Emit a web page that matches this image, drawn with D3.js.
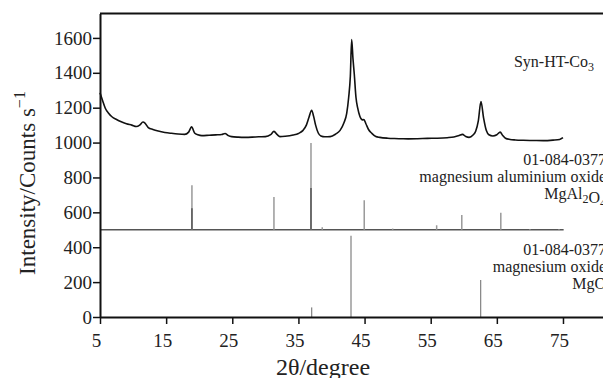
<!DOCTYPE html>
<html>
<head>
<meta charset="utf-8">
<script src="https://cdn.jsdelivr.net/npm/d3@7"></script>
<style>
  body { margin: 0; background: #fff; }
  svg { display: block; }
  svg text { font-family: "Liberation Serif", "Times New Roman", serif; }
</style>
</head>
<body>
<div id="chart"></div>
<script>
var width = 603,
    height = 378;

// measured pattern of the sample, [2theta, counts/s]
var sampleTheta = [5.0, 5.4, 5.8, 6.3, 6.8, 7.5, 8.3, 9.0, 9.8, 10.5, 11.0, 11.5, 11.8, 12.3, 13.0, 13.8, 14.8, 15.8, 16.8, 17.8,
    18.4, 18.85, 19.3, 19.8, 20.4, 21.5, 22.5, 23.4, 23.9, 24.4, 24.9, 25.9, 26.9, 28.0, 29.0, 30.0, 30.8, 31.3, 31.8, 32.2,
    33.0, 34.2, 35.0, 35.7, 36.2, 36.6, 37.0, 37.3, 37.6, 38.0, 38.4, 39.0, 39.8, 40.6, 41.3, 41.9, 42.3, 42.6, 42.85, 43.05,
    43.25, 43.45, 43.7, 43.95, 44.3, 44.7, 44.9, 45.2, 45.6, 46.1, 46.7, 47.3, 48.5, 49.5, 50.5, 51.6, 53.0, 54.5, 56.0, 57.5,
    58.5, 59.3, 59.8, 60.3, 60.8, 61.4, 61.8, 62.2, 62.6, 63.0, 63.4, 63.8, 64.4, 65.0, 65.5, 65.9, 66.3, 67.0, 67.8, 69.0,
    70.5, 72.0, 73.5, 74.5, 75.0];
var sampleCounts = [1285, 1240, 1197, 1168, 1148, 1132, 1118, 1108, 1100, 1092, 1100, 1118, 1112, 1086, 1075, 1066, 1058, 1053, 1049, 1047,
    1060, 1090, 1055, 1045, 1040, 1042, 1044, 1046, 1052, 1040, 1034, 1031, 1030, 1031, 1033, 1034, 1045, 1064, 1045, 1034,
    1036, 1043, 1052, 1070, 1100, 1145, 1185, 1150, 1100, 1055, 1038, 1033, 1034, 1048, 1070, 1115, 1168, 1260, 1380, 1590,
    1480, 1390, 1260, 1200, 1150, 1130, 1132, 1108, 1075, 1053, 1035, 1030, 1025, 1023, 1022, 1021, 1022, 1024, 1025, 1028,
    1032, 1040, 1047, 1035, 1030, 1043, 1065, 1125, 1235, 1140, 1070, 1045, 1038, 1045, 1060, 1040, 1025, 1018, 1015, 1013,
    1012, 1011, 1014, 1018, 1028];

// reference card 01-084-0377 magnesium aluminium oxide, drawn on an offset of 500
var spinelBase = 500;
var spinelTheta = [18.9, 31.3, 36.9, 38.6, 44.95, 49.25, 55.9, 59.7, 65.6, 70.0, 74.4];
var spinelTop = [756, 688, 997, 514, 670, 507, 526, 585, 598, 505, 505];
var spinelDarkTheta = [18.9, 36.9];
var spinelDarkTop = [624, 739];

// reference card magnesium oxide
var mgoTheta = [37.0, 42.95, 62.55];
var mgoTop = [55, 466, 212];

var xTicks = [5, 15, 25, 35, 45, 55, 65, 75];
var yTicks = [0, 200, 400, 600, 800, 1000, 1200, 1400, 1600];

var serif = "Liberation Serif, Times New Roman, serif";

var svg = d3.select("#chart")
    .append("svg")
    .attr("width", width)
    .attr("height", height);

var x = d3.scaleLinear()
    .domain([5, 82])
    .range([100, 100 + 77 * 6.614]);

var y = d3.scaleLinear()
    .domain([0, 1740])
    .range([317, 13.5]);

// sticks of the spinel card
svg.append("line")
    .attr("x1", x(5))
    .attr("x2", x(75.1))
    .attr("y1", y(spinelBase))
    .attr("y2", y(spinelBase))
    .style("stroke", "#555")
    .style("stroke-width", 1.4);

svg.append("g")
    .selectAll("line")
    .data(spinelTheta)
    .enter().append("line")
    .attr("x1", function (d) { return x(d); })
    .attr("x2", function (d) { return x(d); })
    .attr("y1", y(spinelBase))
    .attr("y2", function (d, i) { return y(spinelTop[i]); })
    .style("stroke", "#999")
    .style("stroke-width", 1.5);

svg.append("g")
    .selectAll("line")
    .data(spinelDarkTheta)
    .enter().append("line")
    .attr("x1", function (d) { return x(d); })
    .attr("x2", function (d) { return x(d); })
    .attr("y1", y(spinelBase))
    .attr("y2", function (d, i) { return y(spinelDarkTop[i]); })
    .style("stroke", "#555")
    .style("stroke-width", 1.5);

// sticks of the MgO card
svg.append("g")
    .selectAll("line")
    .data(mgoTheta)
    .enter().append("line")
    .attr("x1", function (d) { return x(d); })
    .attr("x2", function (d) { return x(d); })
    .attr("y1", y(0))
    .attr("y2", function (d, i) { return y(mgoTop[i]); })
    .style("stroke", "#8a8a8a")
    .style("stroke-width", 1.3);

// sample pattern
var line = d3.line()
    .x(function (d) { return x(d[0]); })
    .y(function (d) { return y(d[1]); })
    .curve(d3.curveMonotoneX);

svg.append("path")
    .datum(d3.zip(sampleTheta, sampleCounts))
    .attr("d", line)
    .style("fill", "none")
    .style("stroke", "#111")
    .style("stroke-width", 1.6);

// axes
var xAxis = svg.append("g")
    .attr("transform", "translate(0," + y(0) + ")")
    .call(d3.axisBottom(x).tickValues(xTicks).tickFormat(d3.format("d"))
        .tickSize(7).tickSizeOuter(0).tickPadding(10));

var yAxis = svg.append("g")
    .attr("transform", "translate(" + x(5) + ",0)")
    .call(d3.axisLeft(y).tickValues(yTicks).tickFormat(d3.format("d"))
        .tickSize(7).tickSizeOuter(0).tickPadding(1));

[xAxis, yAxis].forEach(function (g) {
    g.attr("font-family", serif).attr("font-size", 19);
    g.select(".domain").style("stroke", "#111").style("stroke-width", 2);
    g.selectAll(".tick line").style("stroke", "#111").style("stroke-width", 1.5);
    g.selectAll(".tick text").style("fill", "#222");
});
xAxis.selectAll(".tick text").attr("dx", "-4");

// top border of the frame
svg.append("line")
    .attr("x1", x(5))
    .attr("x2", width)
    .attr("y1", y(1740))
    .attr("y2", y(1740))
    .style("stroke", "#111")
    .style("stroke-width", 2);

// axis titles
var yTitle = svg.append("text")
    .attr("transform", "translate(35,183) rotate(-90)")
    .attr("text-anchor", "middle")
    .attr("font-family", serif)
    .style("font-size", "23px")
    .style("fill", "#222");
yTitle.append("tspan").text("Intensity/Counts s");
yTitle.append("tspan").attr("dy", "-0.6em").style("font-size", "16px").text("\u22121");

svg.append("text")
    .attr("x", 323)
    .attr("y", 375)
    .attr("text-anchor", "middle")
    .attr("font-family", serif)
    .style("font-size", "24px")
    .style("fill", "#222")
    .text("2\u03b8/degree");

// labels of the patterns
function label(xPos, yPos, parts) {
    var t = svg.append("text")
        .attr("x", xPos)
        .attr("y", yPos)
        .attr("text-anchor", "end")
        .attr("font-family", serif)
        .style("font-size", "16px")
        .style("fill", "#222");
    parts.forEach(function (p) {
        if (p.sub) {
            t.append("tspan").attr("dy", "4").style("font-size", "12px").text(p.sub);
            t.append("tspan").attr("dy", "-4").text("");
        } else {
            t.append("tspan").text(p.text);
        }
    });
}

label(594, 67, [{text: "Syn-HT-Co"}, {sub: "3"}]);
label(606, 165, [{text: "01-084-0377"}]);
label(606, 182, [{text: "magnesium aluminium oxide"}]);
label(606, 199, [{text: "MgAl"}, {sub: "2"}, {text: "O"}, {sub: "4"}]);
label(606, 255, [{text: "01-084-0377"}]);
label(606, 272, [{text: "magnesium oxide"}]);
label(606, 289, [{text: "MgO"}]);
</script>
</body>
</html>
